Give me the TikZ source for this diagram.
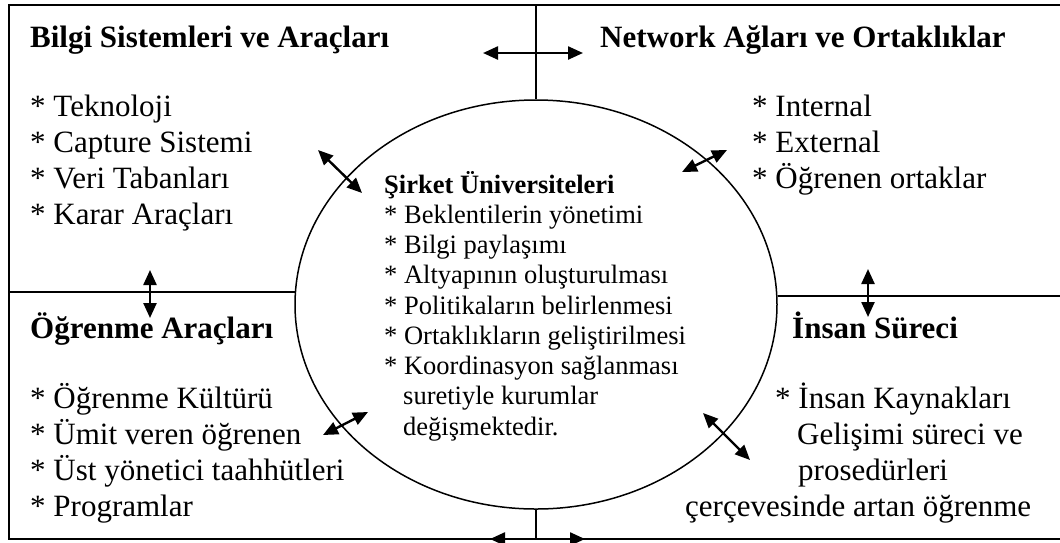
\documentclass[tikz,border=0pt]{standalone}
\usepackage{fontspec}
\setmainfont{Liberation Serif}
\usetikzlibrary{arrows.meta,shapes.geometric}

\tikzset{
  frameline/.style={line width=1.8pt},
  divider/.style={line width=1.3pt},
  link/.style={line width=2.4pt,
    {Triangle[length=15pt,width=13pt]}-{Triangle[length=15pt,width=13pt]}},
  head/.style={font=\fontsize{31}{37}\selectfont\bfseries, anchor=base west, inner sep=0pt},
  item/.style={font=\fontsize{31}{37}\selectfont, anchor=base west, inner sep=0pt},
  chead/.style={font=\fontsize{26.5}{30}\selectfont\bfseries, anchor=base west, inner sep=0pt},
  citem/.style={font=\fontsize{26.5}{30}\selectfont, anchor=base west, inner sep=0pt},
}

\begin{document}
\begin{tikzpicture}[x=1pt,y=-1pt]
  \useasboundingbox (0,0) rectangle (1060,542);

  % outer frame
  \coordinate (ftl) at (9,5);
  \coordinate (fbr) at (1064,539);
  \draw[frameline] (ftl) rectangle (fbr);

  % central ellipse
  \node (uni) [ellipse, draw, line width=1.5pt, minimum width=482pt,
               minimum height=409pt, inner sep=0pt] at (536,304.5) {};

  % quadrant dividers
  \draw[divider] (uni.north |- ftl) -- (uni.north);
  \draw[divider] (uni.south) -- (uni.south |- fbr);
  \draw[divider] (ftl |- uni.177.3) -- (uni.177.3);
  \draw[divider] (uni.2.7) -- (fbr |- uni.2.7);

  % two-way links
  \coordinate (ta) at (483,53);   \coordinate (tb) at (583,53);
  \coordinate (ba) at (490,539);  \coordinate (bb) at (585,539);
  \coordinate (la) at (150,270);  \coordinate (lb) at (150,318);
  \coordinate (ra) at (868,269);  \coordinate (rb) at (868,317);
  \coordinate (d1a) at (318,150); \coordinate (d1b) at (362,193);
  \coordinate (d2a) at (682,172); \coordinate (d2b) at (727,150);
  \coordinate (d3a) at (323,435); \coordinate (d3b) at (368,412);
  \coordinate (d4a) at (703,413); \coordinate (d4b) at (750,460);
  \foreach \p/\q in {ta/tb, ba/bb, la/lb, ra/rb, d1a/d1b, d2a/d2b, d3a/d3b, d4a/d4b}
    \draw[link] (\p) -- (\q);

  % top-left block
  \node (tlh) [head] at (30,47) {Bilgi Sistemleri ve Araçları};
  \node (tl1) [item] at (30,116) {* Teknoloji};
  \node (tl2) [item] at (30,152) {* Capture Sistemi};
  \node (tl3) [item] at (30,188) {* Veri Tabanları};
  \node (tl4) [item] at (30,224) {* Karar Araçları};

  % top-right block
  \node (trh) [head] at (600,47) {Network Ağları ve Ortaklıklar};
  \node (tr1) [item] at (752,116) {* Internal};
  \node (tr2) [item] at (752,152) {* External};
  \node (tr3) [item] at (752,188) {* Öğrenen ortaklar};

  % bottom-left block
  \node (blh) [head] at (30,338) {Öğrenme Araçları};
  \node (bl1) [item] at (30,408) {* Öğrenme Kültürü};
  \node (bl2) [item] at (30,444) {* Ümit veren öğrenen};
  \node (bl3) [item] at (30,480) {* Üst yönetici taahhütleri};
  \node (bl4) [item] at (30,516) {* Programlar};

  % bottom-right block
  \node (brh) [head] at (792,338) {İnsan Süreci};
  \node (br1) [item] at (775,408) {* İnsan Kaynakları};
  \node (br2) [item] at (797,444) {Gelişimi süreci ve};
  \node (br3) [item] at (798,480) {prosedürleri};
  \node (br4) [item] at (685,516) {çerçevesinde artan öğrenme};

  % centre block
  \node (ch) [chead] at (384,193) {Şirket Üniversiteleri};
  \node (c1) [citem] at (384,223.25) {* Beklentilerin yönetimi};
  \node (c2) [citem] at (384,253.5) {* Bilgi paylaşımı};
  \node (c3) [citem] at (384,283.75) {* Altyapının oluşturulması};
  \node (c4) [citem] at (384,314) {* Politikaların belirlenmesi};
  \node (c5) [citem] at (384,344.25) {* Ortaklıkların geliştirilmesi};
  \node (c6) [citem] at (384,374.5) {* Koordinasyon sağlanması};
  \node (c7) [citem] at (403,404.75) {suretiyle kurumlar};
  \node (c8) [citem] at (403,435) {değişmektedir.};
\end{tikzpicture}
\end{document}
